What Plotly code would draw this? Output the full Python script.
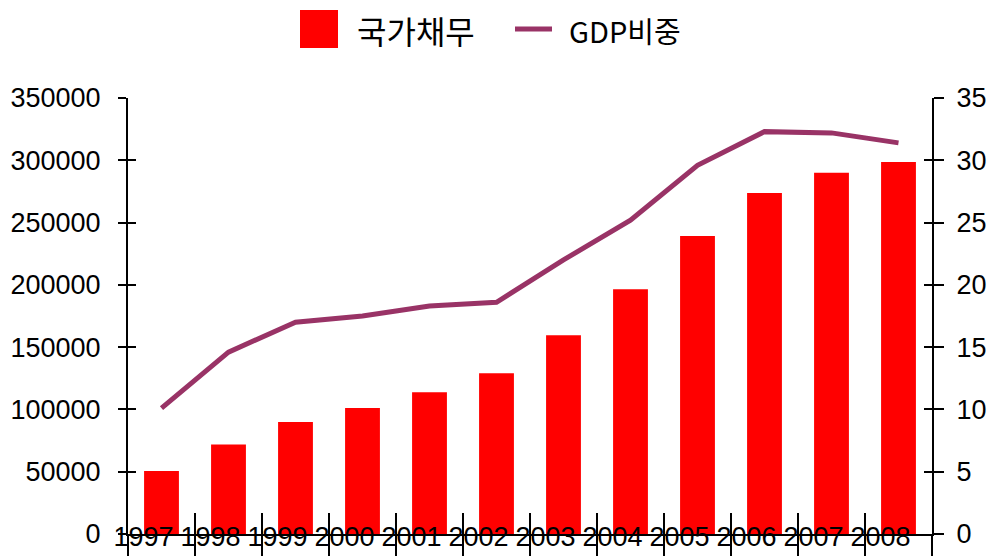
import plotly.graph_objects as go

years = ["1997", "1998", "1999", "2000", "2001", "2002", "2003", "2004", "2005", "2006", "2007", "2008"]
debt = [50500, 71900, 89900, 101200, 113700, 129000, 159500, 196400, 239300, 273800, 289900, 298700]
gdp_ratio = [10.1, 14.6, 17.0, 17.5, 18.3, 18.6, 22.0, 25.2, 29.6, 32.3, 32.2, 31.4]
series_names = ["국가채무", "GDP비중"]
left_ticks = [0, 50000, 100000, 150000, 200000, 250000, 300000, 350000]
right_ticks = [0, 5, 10, 15, 20, 25, 30, 35]

BAR_COLOR = "#FF0000"
LINE_COLOR = "#993366"
NUM_FONT = dict(family="Liberation Sans, Arial, sans-serif", size=27, color="#000000")
KR_FONT1 = dict(family="Noto Sans CJK KR, sans-serif", size=32, color="#000000")
KR_FONT2 = dict(family="Noto Sans CJK KR, sans-serif", size=29, color="#000000")

W, H = 993, 560
ML, MR, MT, MB = 128, 61, 98, 26
PW, PH = W - ML - MR, H - MT - MB

fig = go.Figure()
fig.add_trace(go.Bar(x=years, y=debt, name=series_names[0], marker=dict(color=BAR_COLOR, line=dict(width=0)),
                     xaxis="x", yaxis="y", showlegend=False))
fig.add_trace(go.Scatter(x=years, y=gdp_ratio, name=series_names[1], mode="lines",
                         line=dict(color=LINE_COLOR, width=5), xaxis="x", yaxis="y2", showlegend=False))
# helper traces for overlay tick axes (invisible)
fig.add_trace(go.Scatter(x=years, y=debt, mode="none", xaxis="x2", yaxis="y3", showlegend=False, hoverinfo="skip"))
fig.add_trace(go.Scatter(x=years, y=gdp_ratio, mode="none", xaxis="x2", yaxis="y4", showlegend=False, hoverinfo="skip"))

common_x = dict(type="category", categoryorder="array", categoryarray=years, range=[-0.5, len(years) - 0.5],
                tickson="boundaries", showgrid=False, zeroline=False, automargin=False, tickangle=0)
fig.update_layout(
    width=W, height=H,
    margin=dict(l=ML, r=MR, t=MT, b=MB, pad=0, autoexpand=False),
    paper_bgcolor="white", plot_bgcolor="white",
    bargap=0.48,
    showlegend=False,
    xaxis=dict(**common_x, showline=True, linecolor="black", linewidth=2,
               ticks="outside", ticklen=20, tickwidth=2, tickcolor="black",
               tickfont=NUM_FONT, ticklabelstandoff=-22, ticklabelshift=-18),
    xaxis2=dict(**common_x, overlaying="x", anchor="y", side="bottom", showline=False,
                ticks="inside", ticklen=21, tickwidth=2, tickcolor="black", showticklabels=False),
    yaxis=dict(range=[0, 350000], tickvals=left_ticks, ticktext=[str(v) for v in left_ticks],
               showline=True, linecolor="black", linewidth=2, ticks="outside", ticklen=8, tickwidth=2,
               tickcolor="black", showgrid=False, zeroline=False, tickfont=NUM_FONT, ticklabelstandoff=12,
               automargin=False),
    yaxis2=dict(range=[0, 35], tickvals=right_ticks, overlaying="y", side="right", anchor="x",
                showline=True, linecolor="black", linewidth=2, ticks="outside", ticklen=10, tickwidth=2,
                tickcolor="black", showgrid=False, zeroline=False, tickfont=NUM_FONT, ticklabelstandoff=7,
                automargin=False),
    yaxis3=dict(range=[0, 350000], tickvals=left_ticks, overlaying="y", side="left", anchor="x2",
                ticks="inside", ticklen=8, tickwidth=2, tickcolor="black", showticklabels=False,
                showgrid=False, zeroline=False, showline=False, automargin=False),
    yaxis4=dict(range=[0, 35], tickvals=right_ticks, overlaying="y", side="right", anchor="x2",
                ticks="inside", ticklen=8, tickwidth=2, tickcolor="black", showticklabels=False,
                showgrid=False, zeroline=False, showline=False, automargin=False),
)

def px_x(x):
    return (x - ML) / PW

def px_y(y):
    return (H - MB - y) / PH

# custom legend (large swatches as in the reference)
fig.add_shape(type="rect", xref="paper", yref="paper", x0=px_x(300), x1=px_x(338), y0=px_y(48), y1=px_y(10),
              fillcolor=BAR_COLOR, line=dict(width=0))
fig.add_shape(type="line", xref="paper", yref="paper", x0=px_x(515), x1=px_x(552), y0=px_y(29), y1=px_y(29),
              line=dict(color=LINE_COLOR, width=5))
fig.add_annotation(text=series_names[0], xref="paper", yref="paper", x=px_x(355), y=px_y(30),
                   xanchor="left", yanchor="middle", showarrow=False, font=KR_FONT1)
fig.add_annotation(text=series_names[1], xref="paper", yref="paper", x=px_x(567), y=px_y(30),
                   xanchor="left", yanchor="middle", showarrow=False, font=KR_FONT2)

fig.write_html("out.html", config={"displayModeBar": False},
               post_script="document.body.style.margin='0';document.body.style.padding='0';")
